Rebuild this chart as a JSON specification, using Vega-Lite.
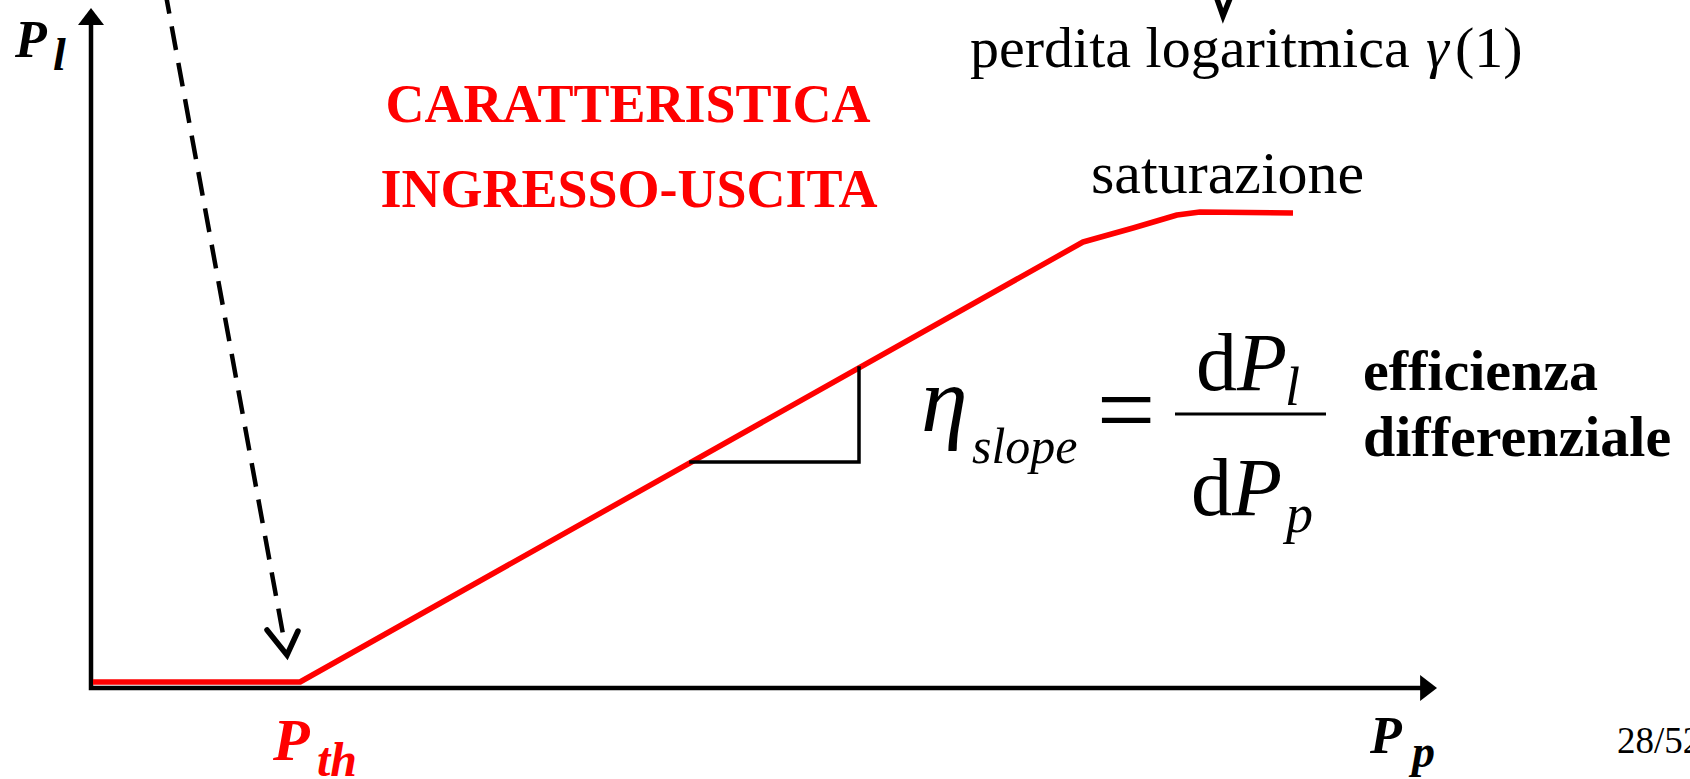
{
  "$schema": "https://vega.github.io/schema/vega-lite/v6.json",
  "width": 1690,
  "height": 779,
  "autosize": {"type": "none"},
  "padding": 0,
  "background": "white",
  "config": {"view": {"stroke": null}},
  "datasets": {
    "axes": [{"i": 0, "x": 0, "y": 66.5}, {"i": 1, "x": 0, "y": 0}, {"i": 2, "x": 133.0, "y": 0}],
    "heads": [{"x": 0, "y": 68.0, "dir": "up"}, {"x": 134.6, "y": 0, "dir": "right"}],
    "curve": [
      {"i": 0, "x": 0.2, "y": 0.6}, {"i": 1, "x": 20.9, "y": 0.6}, {"i": 2, "x": 99.2, "y": 44.6},
      {"i": 3, "x": 104.2, "y": 46.0}, {"i": 4, "x": 108.6, "y": 47.3}, {"i": 5, "x": 110.9, "y": 47.6},
      {"i": 6, "x": 120.2, "y": 47.5}
    ],
    "tri": [{"i": 0, "x": 60.0, "y": 22.6}, {"i": 1, "x": 76.8, "y": 22.6}, {"i": 2, "x": 76.8, "y": 32.0}],
    "dash": [{"i": 0, "x": 7.4, "y": 69.8}, {"i": 1, "x": 19.4, "y": 4.3}],
    "chev1": [{"i": 0, "x": 17.6, "y": 5.8}, {"i": 1, "x": 19.6, "y": 3.3}, {"i": 2, "x": 20.7, "y": 5.7}],
    "chev2": [{"i": 0, "x": 112.5, "y": 69.2}, {"i": 1, "x": 113.2, "y": 67.2}, {"i": 2, "x": 114.0, "y": 69.2}],
    "frac": [{"x": 108.4, "x2": 123.5, "y": 27.4}],
    "tBI52": [{"x": -7.6, "y": 63.1, "t": "P"}, {"x": 127.9, "y": -6.5, "t": "P"}],
    "tBI46": [{"x": -3.8, "y": 61.8, "t": "l"}, {"x": 132.1, "y": -7.9, "t": "p"}],
    "tRBI60": [{"x": 18.2, "y": -7.2, "t": "P"}],
    "tRBI48": [{"x": 22.6, "y": -8.8, "t": "th"}],
    "tRB": [{"x": 53.7, "y": 56.6, "t": "CARATTERISTICA"}, {"x": 53.8, "y": 48.1, "t": "INGRESSO-USCITA"}],
    "tR58": [{"x": 87.9, "y": 62.1, "t": "perdita logaritmica"}, {"x": 136.4, "y": 62.1, "t": "(1)"}],
    "tR60": [{"x": 100.0, "y": 49.5, "t": "saturazione"}],
    "tI58": [{"x": 133.5, "y": 62.1, "t": "γ"}],
    "tB58": [{"x": 127.2, "y": 29.8, "t": "efficienza"}, {"x": 127.2, "y": 23.2, "t": "differenziale"}],
    "tEta": [{"x": 83.0, "y": 25.7, "t": "η"}],
    "tSlope": [{"x": 88.1, "y": 22.5, "t": "slope"}],
    "tEq": [{"x": 103.5, "y": 24.3, "t": "="}],
    "tD": [{"x": 110.5, "y": 29.8, "t": "d"}, {"x": 110.0, "y": 17.3, "t": "d"}],
    "tP": [{"x": 114.6, "y": 29.8, "t": "P"}, {"x": 114.1, "y": 17.3, "t": "P"}],
    "tSub": [{"x": 119.4, "y": 28.3, "t": "l"}, {"x": 119.5, "y": 15.6, "t": "p"}],
    "tPage": [{"x": 152.6, "y": -6.5, "t": "28/52"}]
  },
  "layer": [
    {
      "data": {"name": "axes"},
      "mark": {"type": "line", "color": "black", "strokeWidth": 4.5, "strokeJoin": "miter", "strokeCap": "butt"},
      "encoding": {
        "x": {"field": "x", "type": "quantitative", "scale": {"domain": [-9.1, 159.9], "nice": false, "zero": false}, "axis": null},
        "y": {"field": "y", "type": "quantitative", "scale": {"domain": [-9.1, 68.8], "nice": false, "zero": false}, "axis": null},
        "order": {"field": "i"}
      }
    },
    {
      "data": {"name": "heads"},
      "mark": {"type": "point", "filled": true, "opacity": 1, "color": "black", "size": 676},
      "encoding": {
        "x": {"field": "x", "type": "quantitative"},
        "y": {"field": "y", "type": "quantitative"},
        "shape": {"field": "dir", "type": "nominal", "scale": {"domain": ["up", "right"], "range": ["M0,0L1,1.3L-1,1.3Z", "M0,0L-1.3,-1L-1.3,1Z"]}, "legend": null}
      }
    },
    {
      "data": {"name": "curve"},
      "mark": {"type": "line", "color": "#ff0000", "strokeWidth": 5.5, "strokeCap": "butt", "strokeJoin": "round"},
      "encoding": {"x": {"field": "x", "type": "quantitative"}, "y": {"field": "y", "type": "quantitative"}, "order": {"field": "i"}}
    },
    {
      "data": {"name": "tri"},
      "mark": {"type": "line", "color": "black", "strokeWidth": 3.5, "strokeJoin": "miter", "strokeCap": "square"},
      "encoding": {"x": {"field": "x", "type": "quantitative"}, "y": {"field": "y", "type": "quantitative"}, "order": {"field": "i"}}
    },
    {
      "data": {"name": "dash"},
      "mark": {"type": "line", "color": "black", "strokeWidth": 4.5, "strokeDash": [24, 13], "strokeCap": "butt"},
      "encoding": {"x": {"field": "x", "type": "quantitative"}, "y": {"field": "y", "type": "quantitative"}, "order": {"field": "i"}}
    },
    {
      "data": {"name": "chev1"},
      "mark": {"type": "line", "color": "black", "strokeWidth": 5.5, "strokeJoin": "miter", "strokeCap": "round"},
      "encoding": {"x": {"field": "x", "type": "quantitative"}, "y": {"field": "y", "type": "quantitative"}, "order": {"field": "i"}}
    },
    {
      "data": {"name": "chev2"},
      "mark": {"type": "line", "color": "black", "strokeWidth": 5.5, "strokeJoin": "miter", "strokeCap": "round"},
      "encoding": {"x": {"field": "x", "type": "quantitative"}, "y": {"field": "y", "type": "quantitative"}, "order": {"field": "i"}}
    },
    {
      "data": {"name": "frac"},
      "mark": {"type": "rule", "color": "black", "strokeWidth": 3},
      "encoding": {"x": {"field": "x", "type": "quantitative"}, "x2": {"field": "x2"}, "y": {"field": "y", "type": "quantitative"}}
    },
    {
      "data": {"name": "tBI52"},
      "mark": {"type": "text", "font": "Liberation Serif", "fontSize": 52, "fontWeight": "bold", "fontStyle": "italic", "color": "black", "align": "left", "baseline": "alphabetic"},
      "encoding": {"x": {"field": "x", "type": "quantitative"}, "y": {"field": "y", "type": "quantitative"}, "text": {"field": "t"}}
    },
    {
      "data": {"name": "tBI46"},
      "mark": {"type": "text", "font": "Liberation Serif", "fontSize": 46, "fontWeight": "bold", "fontStyle": "italic", "color": "black", "align": "left", "baseline": "alphabetic"},
      "encoding": {"x": {"field": "x", "type": "quantitative"}, "y": {"field": "y", "type": "quantitative"}, "text": {"field": "t"}}
    },
    {
      "data": {"name": "tRBI60"},
      "mark": {"type": "text", "font": "Liberation Serif", "fontSize": 60, "fontWeight": "bold", "fontStyle": "italic", "color": "#ff0000", "align": "left", "baseline": "alphabetic"},
      "encoding": {"x": {"field": "x", "type": "quantitative"}, "y": {"field": "y", "type": "quantitative"}, "text": {"field": "t"}}
    },
    {
      "data": {"name": "tRBI48"},
      "mark": {"type": "text", "font": "Liberation Serif", "fontSize": 48, "fontWeight": "bold", "fontStyle": "italic", "color": "#ff0000", "align": "left", "baseline": "alphabetic"},
      "encoding": {"x": {"field": "x", "type": "quantitative"}, "y": {"field": "y", "type": "quantitative"}, "text": {"field": "t"}}
    },
    {
      "data": {"name": "tRB"},
      "mark": {"type": "text", "font": "Liberation Serif", "fontSize": 54, "fontWeight": "bold", "color": "#ff0000", "align": "center", "baseline": "alphabetic"},
      "encoding": {"x": {"field": "x", "type": "quantitative"}, "y": {"field": "y", "type": "quantitative"}, "text": {"field": "t"}}
    },
    {
      "data": {"name": "tR58"},
      "mark": {"type": "text", "font": "Liberation Serif", "fontSize": 58, "color": "black", "align": "left", "baseline": "alphabetic"},
      "encoding": {"x": {"field": "x", "type": "quantitative"}, "y": {"field": "y", "type": "quantitative"}, "text": {"field": "t"}}
    },
    {
      "data": {"name": "tR60"},
      "mark": {"type": "text", "font": "Liberation Serif", "fontSize": 60, "color": "black", "align": "left", "baseline": "alphabetic"},
      "encoding": {"x": {"field": "x", "type": "quantitative"}, "y": {"field": "y", "type": "quantitative"}, "text": {"field": "t"}}
    },
    {
      "data": {"name": "tI58"},
      "mark": {"type": "text", "font": "Liberation Serif", "fontSize": 58, "fontStyle": "italic", "color": "black", "align": "left", "baseline": "alphabetic"},
      "encoding": {"x": {"field": "x", "type": "quantitative"}, "y": {"field": "y", "type": "quantitative"}, "text": {"field": "t"}}
    },
    {
      "data": {"name": "tB58"},
      "mark": {"type": "text", "font": "Liberation Serif", "fontSize": 58, "fontWeight": "bold", "color": "black", "align": "left", "baseline": "alphabetic"},
      "encoding": {"x": {"field": "x", "type": "quantitative"}, "y": {"field": "y", "type": "quantitative"}, "text": {"field": "t"}}
    },
    {
      "data": {"name": "tEta"},
      "mark": {"type": "text", "font": "Liberation Serif", "fontSize": 94, "fontStyle": "italic", "color": "black", "align": "left", "baseline": "alphabetic"},
      "encoding": {"x": {"field": "x", "type": "quantitative"}, "y": {"field": "y", "type": "quantitative"}, "text": {"field": "t"}}
    },
    {
      "data": {"name": "tSlope"},
      "mark": {"type": "text", "font": "Liberation Serif", "fontSize": 50, "fontStyle": "italic", "color": "black", "align": "left", "baseline": "alphabetic"},
      "encoding": {"x": {"field": "x", "type": "quantitative"}, "y": {"field": "y", "type": "quantitative"}, "text": {"field": "t"}}
    },
    {
      "data": {"name": "tEq"},
      "mark": {"type": "text", "font": "Liberation Serif", "fontSize": 104, "color": "black", "align": "center", "baseline": "alphabetic"},
      "encoding": {"x": {"field": "x", "type": "quantitative"}, "y": {"field": "y", "type": "quantitative"}, "text": {"field": "t"}}
    },
    {
      "data": {"name": "tD"},
      "mark": {"type": "text", "font": "Liberation Serif", "fontSize": 82, "color": "black", "align": "left", "baseline": "alphabetic"},
      "encoding": {"x": {"field": "x", "type": "quantitative"}, "y": {"field": "y", "type": "quantitative"}, "text": {"field": "t"}}
    },
    {
      "data": {"name": "tP"},
      "mark": {"type": "text", "font": "Liberation Serif", "fontSize": 82, "fontStyle": "italic", "color": "black", "align": "left", "baseline": "alphabetic"},
      "encoding": {"x": {"field": "x", "type": "quantitative"}, "y": {"field": "y", "type": "quantitative"}, "text": {"field": "t"}}
    },
    {
      "data": {"name": "tSub"},
      "mark": {"type": "text", "font": "Liberation Serif", "fontSize": 54, "fontStyle": "italic", "color": "black", "align": "left", "baseline": "alphabetic"},
      "encoding": {"x": {"field": "x", "type": "quantitative"}, "y": {"field": "y", "type": "quantitative"}, "text": {"field": "t"}}
    },
    {
      "data": {"name": "tPage"},
      "mark": {"type": "text", "font": "Liberation Serif", "fontSize": 37, "color": "black", "align": "left", "baseline": "alphabetic"},
      "encoding": {"x": {"field": "x", "type": "quantitative"}, "y": {"field": "y", "type": "quantitative"}, "text": {"field": "t"}}
    }
  ]
}
